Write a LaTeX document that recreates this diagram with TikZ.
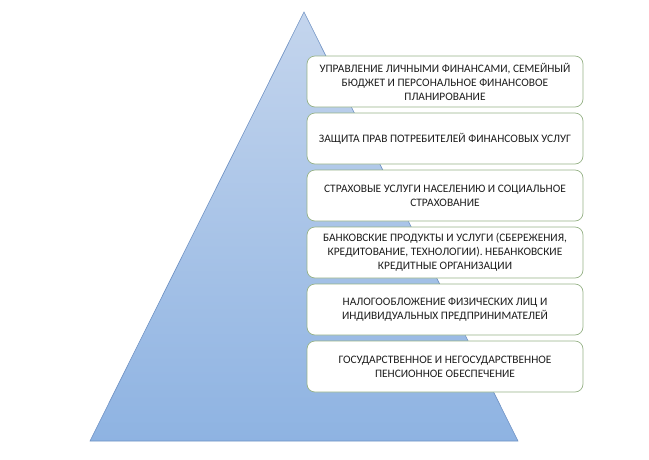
\documentclass[tikz,border=0pt]{standalone}
\usepackage{fontspec}
\setmainfont{Carlito}
\definecolor{pyrtop}{RGB}{196,213,237}
\definecolor{pyrbot}{RGB}{142,179,226}
\definecolor{pyredge}{RGB}{110,145,195}
\definecolor{tierline}{RGB}{150,178,135}
\definecolor{tiertext}{RGB}{30,30,30}
\tikzset{
  pyramid/.style={top color=pyrtop,bottom color=pyrbot,draw=pyredge,line width=0.6pt},
  tier/.style={draw=tierline,fill=white,line width=0.7pt,rounded corners=8pt,
    minimum width=276pt,minimum height=51pt,inner sep=2pt,align=center,
    text=tiertext,font=\fontsize{11.4pt}{14pt}\selectfont}
}
\begin{document}
\begin{tikzpicture}[x=1pt,y=-1pt]
  \useasboundingbox (0,0) rectangle (649,459);
  % pyramid
  \coordinate (apex) at (304,12);
  \coordinate (bl) at (90,441);
  \coordinate (br) at (518,441);
  \path[pyramid] (apex)--(br)--(bl)--cycle;

  % tiers
  \node[tier] (t1) at (445,81.5) {УПРАВЛЕНИЕ ЛИЧНЫМИ ФИНАНСАМИ, СЕМЕЙНЫЙ\\БЮДЖЕТ И ПЕРСОНАЛЬНОЕ ФИНАНСОВОЕ\\ПЛАНИРОВАНИЕ};
  \node[tier] (t2) at (445,138.5) {ЗАЩИТА ПРАВ ПОТРЕБИТЕЛЕЙ ФИНАНСОВЫХ УСЛУГ};
  \node[tier] (t3) at (445,195.5) {СТРАХОВЫЕ УСЛУГИ НАСЕЛЕНИЮ И СОЦИАЛЬНОЕ\\СТРАХОВАНИЕ};
  \node[tier] (t4) at (445,252.5) {БАНКОВСКИЕ ПРОДУКТЫ И УСЛУГИ (СБЕРЕЖЕНИЯ,\\КРЕДИТОВАНИЕ, ТЕХНОЛОГИИ). НЕБАНКОВСКИЕ\\КРЕДИТНЫЕ ОРГАНИЗАЦИИ};
  \node[tier] (t5) at (445,309.5) {НАЛОГООБЛОЖЕНИЕ ФИЗИЧЕСКИХ ЛИЦ И\\ИНДИВИДУАЛЬНЫХ ПРЕДПРИНИМАТЕЛЕЙ};
  \node[tier] (t6) at (445,366.5) {ГОСУДАРСТВЕННОЕ И НЕГОСУДАРСТВЕННОЕ\\ПЕНСИОННОЕ ОБЕСПЕЧЕНИЕ};
\end{tikzpicture}
\end{document}
